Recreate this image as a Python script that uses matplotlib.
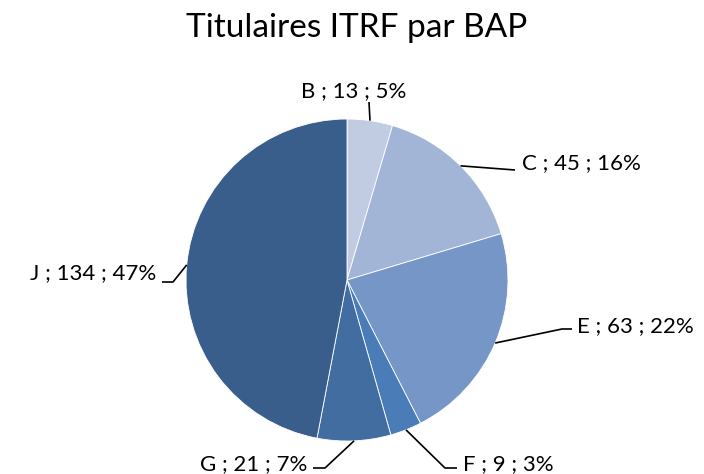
import numpy as np
import matplotlib.pyplot as plt

labels = ["B", "C", "E", "F", "G", "J"]
counts = [13, 45, 63, 9, 21, 134]
colors = ["#c1cce3", "#a3b5d6", "#7596c7", "#4a7cb7", "#426da1", "#3a5e8b"]

# label boxes (pixel coords of the reference, y from top): text baseline anchor, elbow, ha
W, H = 704, 474
cx, cy, R = 347, 280, 161
lab_pos = {
    "B": ((354, 97), [(369, 102)], "center"),
    "C": ((522, 169), [(515, 170)], "left"),
    "E": ((577, 332), [(562, 329), (572, 329)], "left"),
    "F": ((463, 470), [(445, 468), (457, 468)], "left"),
    "G": ((307, 470), [(325, 468), (313, 468)], "right"),
    "J": ((156, 279), [(173, 282), (162, 282)], "right"),
}

plt.rcParams['font.family'] = ['Lato', 'DejaVu Sans']

fig = plt.figure(figsize=(W / 100, H / 100), dpi=100)
ax = fig.add_axes([(cx - R) / W, (H - cy - R) / H, 2 * R / W, 2 * R / H])
wedges, _ = ax.pie(counts, colors=colors, startangle=90, counterclock=False,
                   radius=1, wedgeprops=dict(edgecolor="white", linewidth=0.6))
ax.set_xlim(-1, 1)
ax.set_ylim(-1, 1)
ax.set_aspect("equal")
ax.axis("off")


def to_data(p):
    return ((p[0] - cx) / R, (cy - p[1]) / R)


total = sum(counts)
for w, lab, n in zip(wedges, labels, counts):
    ang = np.deg2rad((w.theta1 + w.theta2) / 2)
    start = (np.cos(ang), np.sin(ang))
    tpos, elbows, ha = lab_pos[lab]
    pts = [start] + [to_data(e) for e in elbows]
    xs, ys = zip(*pts)
    ax.plot(xs, ys, color="black", lw=1.2, clip_on=False, solid_capstyle="butt")
    tx, ty = to_data(tpos)
    ax.text(tx, ty, f"{lab} ; {n} ; {round(100 * n / total)}%", ha=ha, va="baseline",
            fontsize=16, color="black", clip_on=False)

fig.text(357 / W, 1 - 37 / H, "Titulaires ITRF par BAP", ha="center", va="baseline",
         fontsize=24, color="black")

fig.savefig("out.png", dpi=100)
